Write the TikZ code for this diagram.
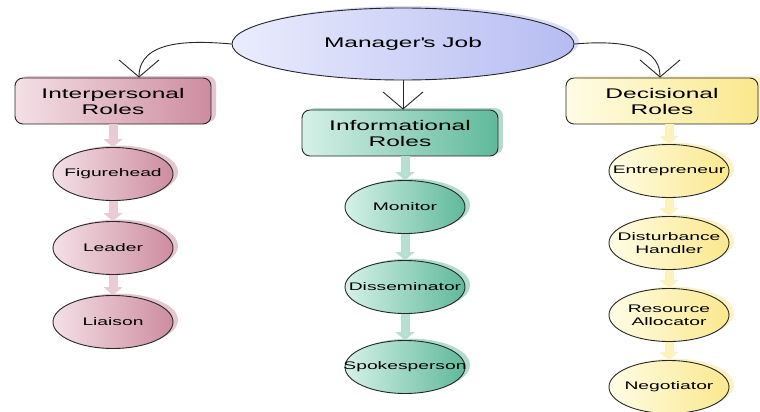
\documentclass[tikz,border=0pt]{standalone}
\usepackage{fontspec}
\setmainfont{Liberation Sans}[FakeStretch=1.75]
\usetikzlibrary{arrows.meta,shapes.geometric,shadows}

\definecolor{pinklight}{RGB}{244,224,230}
\definecolor{pinkdark}{RGB}{205,140,160}
\definecolor{teallight}{RGB}{214,241,231}
\definecolor{tealdark}{RGB}{95,185,155}
\definecolor{yellowlight}{RGB}{255,252,230}
\definecolor{yellowdark}{RGB}{250,232,140}
\definecolor{lavlight}{RGB}{234,236,253}
\definecolor{lavdark}{RGB}{182,188,242}

\begin{document}
\begin{tikzpicture}[x=1pt,y=-1pt,
  link/.style={draw=black!85,line width=0.9pt,-{Straight Barb[length=17pt,width=40pt,line width=0.9pt]}},
  role/.style={draw=black!85,line width=0.9pt,rounded corners=8pt,minimum width=196pt,minimum height=46pt,align=center,font=\fontsize{14}{16}\selectfont},
  duty/.style={ellipse,draw=black!85,line width=0.9pt,minimum width=120pt,minimum height=53pt,inner xsep=-30pt,inner ysep=0pt,align=center,font=\fontsize{11}{13}\selectfont},
  tint/.style 2 args={left color=#1,middle color=#1,right color=#2,drop shadow={shadow xshift=5pt,shadow yshift=2pt,fill=#2,opacity=0.5}},
  flow/.style={draw=#1,line width=9pt,-{Triangle[length=8pt,width=19pt]}}]
\useasboundingbox (0,0) rectangle (760,412);

\node[ellipse,draw=black!85,line width=0.9pt,minimum width=342pt,minimum height=72pt,tint={lavlight}{lavdark},font=\fontsize{14}{16}\selectfont] (job) at (403,44) {Manager\textquotesingle s Job};

\node[role,tint={pinklight}{pinkdark}] (inter) at (113,101) {Interpersonal\\Roles};
\node[role,tint={teallight}{tealdark}] (info) at (400,133) {Informational\\Roles};
\node[role,tint={yellowlight}{yellowdark},minimum width=192pt] (deci) at (662,101) {Decisional\\Roles};

\begin{scope}[node distance=74pt]
\node[duty,tint={pinklight}{pinkdark}] (fig) at (113,174) {Figurehead};
 \node[duty,tint={pinklight}{pinkdark}] (lead) [below of=fig] {Leader};
  \node[duty,tint={pinklight}{pinkdark}] (lia) [below of=lead] {Liaison};
\end{scope}

\begin{scope}[node distance=80pt]
\node[duty,tint={teallight}{tealdark}] (mon) at (405,207) {Monitor};
 \node[duty,tint={teallight}{tealdark}] (diss) [below of=mon] {Disseminator};
  \node[duty,tint={teallight}{tealdark}] (spk) [below of=diss] {Spokesperson};
\end{scope}

\begin{scope}[node distance=72pt]
\node[duty,tint={yellowlight}{yellowdark}] (ent) at (669,171) {Entrepreneur};
 \node[duty,tint={yellowlight}{yellowdark}] (dist) [below of=ent] {Disturbance\\Handler};
  \node[duty,tint={yellowlight}{yellowdark}] (res) [below of=dist] {Resource\\Allocator};
	\node[duty,tint={yellowlight}{yellowdark}] (neg) [below of=res] {Negotiator};
\end{scope}

\draw[link] (job.west) to[out=175,in=90] ([xshift=26pt]inter.north);
\draw[link] (job.south) -- (job.south |- info.north);
\draw[link] (job.east) to[out=5,in=90] ([xshift=-2pt]deci.north);

\draw[flow=pinkdark!45] (inter) -- (fig);
\draw[flow=pinkdark!45] (fig) -- (lead);
\draw[flow=pinkdark!45] (lead) -- (lia);
\draw[flow=tealdark!45] (info.south -| mon.north) -- (mon);
\draw[flow=tealdark!45] (mon) -- (diss);
\draw[flow=tealdark!45] (diss) -- (spk);
\draw[flow=yellowdark!55] (deci.south -| ent.north) -- (ent);
\draw[flow=yellowdark!55] (ent) -- (dist);
\draw[flow=yellowdark!55] (dist) -- (res);
\draw[flow=yellowdark!55] (res) -- (neg);

\end{tikzpicture}
\end{document}
